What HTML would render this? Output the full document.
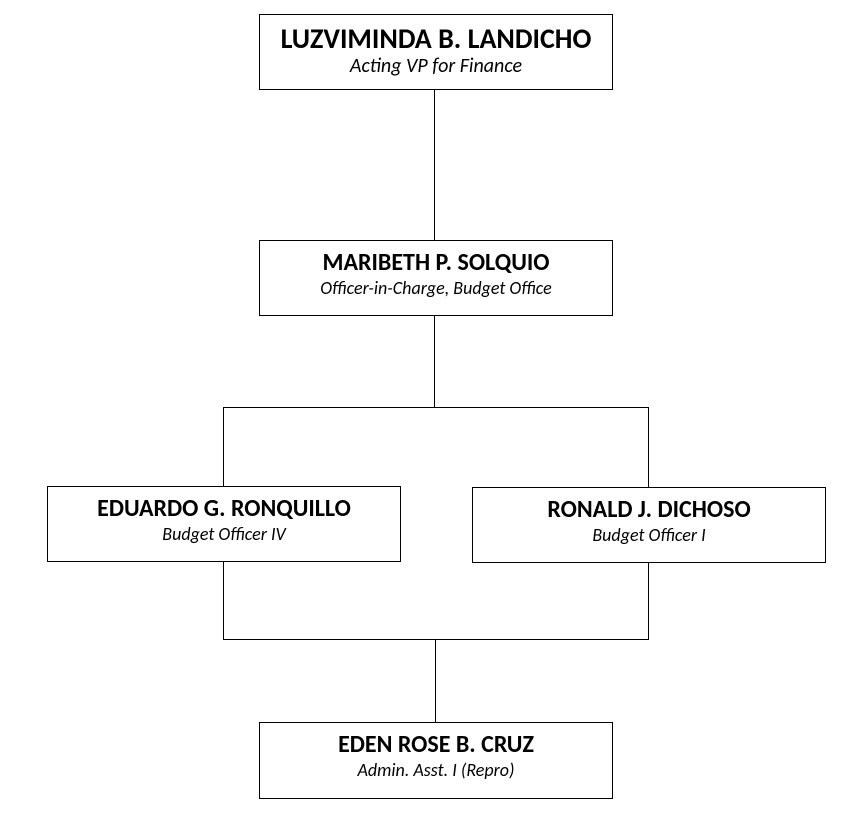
<!DOCTYPE html>
<html><head><style>
body{margin:0;width:857px;height:817px;background:#fff;position:relative;font-family:"Carlito","Liberation Sans",sans-serif;}
.b{position:absolute;border:1px solid #000;box-sizing:border-box;background:#fff}
.t,.s{position:absolute;left:0;right:0;text-align:center;white-space:nowrap}
.t{font-weight:bold;font-size:24px;line-height:28px;top:8px}
.s{font-style:italic;font-size:18px;line-height:22px;top:36px}
.l{position:absolute;background:#000}
</style></head><body>
<div class="l" style="left:434px;top:89px;width:1px;height:151px"></div>
<div class="l" style="left:434px;top:315px;width:1px;height:92px"></div>
<div class="l" style="left:223px;top:407px;width:426px;height:1px"></div>
<div class="l" style="left:223px;top:407px;width:1px;height:79px"></div>
<div class="l" style="left:648px;top:407px;width:1px;height:80px"></div>
<div class="l" style="left:223px;top:561px;width:1px;height:79px"></div>
<div class="l" style="left:648px;top:562px;width:1px;height:78px"></div>
<div class="l" style="left:223px;top:639px;width:426px;height:1px"></div>
<div class="l" style="left:435px;top:639px;width:1px;height:83px"></div>
<div class="b" style="left:259px;top:14px;width:354px;height:76px"><div class="t" style="font-size:28px;top:8px;line-height:32px">LUZVIMINDA B. LANDICHO</div><div class="s" style="font-size:20px;top:40px">Acting VP for Finance</div></div>
<div class="b" style="left:259px;top:240px;width:354px;height:76px"><div class="t">MARIBETH P. SOLQUIO</div><div class="s">Officer-in-Charge, Budget Office</div></div>
<div class="b" style="left:47px;top:486px;width:354px;height:76px"><div class="t">EDUARDO G. RONQUILLO</div><div class="s">Budget Officer IV</div></div>
<div class="b" style="left:472px;top:487px;width:354px;height:76px"><div class="t">RONALD J. DICHOSO</div><div class="s">Budget Officer I</div></div>
<div class="b" style="left:259px;top:722px;width:354px;height:77px"><div class="t">EDEN ROSE B. CRUZ</div><div class="s">Admin. Asst. I (Repro)</div></div>
</body></html>
